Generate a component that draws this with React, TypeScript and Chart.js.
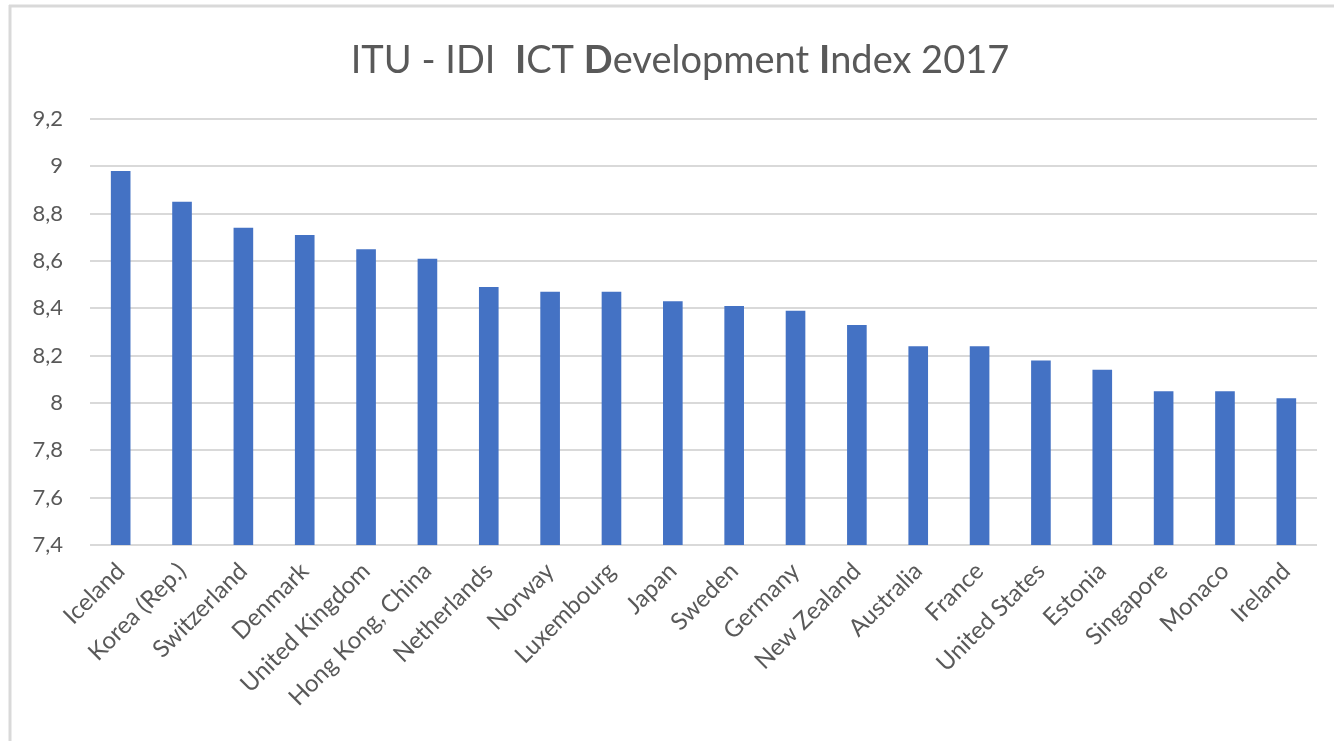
import React, { useEffect, useRef } from "react";
import { Chart, registerables } from "chart.js";

Chart.register(...registerables);

const countries = [
  "Iceland",
  "Korea (Rep.)",
  "Switzerland",
  "Denmark",
  "United Kingdom",
  "Hong Kong, China",
  "Netherlands",
  "Norway",
  "Luxembourg",
  "Japan",
  "Sweden",
  "Germany",
  "New Zealand",
  "Australia",
  "France",
  "United States",
  "Estonia",
  "Singapore",
  "Monaco",
  "Ireland",
];

const idiValues = [
  8.98, 8.85, 8.74, 8.71, 8.65, 8.61, 8.49, 8.47, 8.47, 8.43, 8.41, 8.39, 8.33,
  8.24, 8.24, 8.18, 8.14, 8.05, 8.05, 8.02,
];

const yMin = 7.4;
const yMax = 9.2;
const yStep = 0.2;

const titleRuns = [
  { text: "ITU - IDI  ", bold: false },
  { text: "I", bold: true },
  { text: "CT ", bold: false },
  { text: "D", bold: true },
  { text: "evelopment ", bold: false },
  { text: "I", bold: true },
  { text: "ndex 2017", bold: false },
];

const FONT = "Lato, 'Open Sans', sans-serif";
const TEXT = "#595959";
const GRID = "#d9d9d9";
const BAR = "#4472C4";

const framePlugin = {
  id: "frameAndTitle",
  beforeDraw(chart: any) {
    const ctx = chart.ctx;
    ctx.save();
    ctx.fillStyle = "#ffffff";
    ctx.fillRect(0, 0, chart.width, chart.height);
    ctx.strokeStyle = GRID;
    ctx.lineWidth = 3;
    ctx.beginPath();
    ctx.moveTo(9, 6);
    ctx.lineTo(chart.width, 6);
    ctx.moveTo(10, 5);
    ctx.lineTo(10, chart.height);
    ctx.stroke();
    ctx.restore();
  },
  afterDraw(chart: any) {
    const ctx = chart.ctx;
    ctx.save();
    const size = 38;
    const fontFor = (b: boolean) => `${b ? "bold " : ""}${size}px ${FONT}`;
    let total = 0;
    const widths = titleRuns.map((r) => {
      ctx.font = fontFor(r.bold);
      const w = ctx.measureText(r.text).width;
      total += w;
      return w;
    });
    let x = 680 - total / 2;
    ctx.fillStyle = TEXT;
    ctx.textBaseline = "alphabetic";
    ctx.textAlign = "left";
    titleRuns.forEach((r, i) => {
      ctx.font = fontFor(r.bold);
      ctx.fillText(r.text, x, 73);
      x += widths[i];
    });
    ctx.restore();
  },
};

export default function App() {
  const ref = useRef<HTMLCanvasElement | null>(null);

  useEffect(() => {
    if (!ref.current) return;
    const chart = new Chart(ref.current, {
      type: "bar",
      data: {
        labels: countries,
        datasets: [
          {
            label: "IDI 2017",
            data: idiValues,
            backgroundColor: BAR,
            borderWidth: 0,
            barPercentage: 0.32,
            categoryPercentage: 1,
          },
        ],
      },
      options: {
        responsive: false,
        animation: false,
        layout: { padding: { left: 0, right: 17, top: 119, bottom: 0 } },
        plugins: {
          legend: { display: false },
          title: { display: false },
          tooltip: { enabled: false },
        },
        scales: {
          x: {
            grid: { display: false, drawTicks: false },
            border: { display: false },
            ticks: {
              color: TEXT,
              font: { family: FONT, size: 24 },
              maxRotation: 45,
              minRotation: 45,
              autoSkip: false,
              padding: 12,
            },
            afterFit(scale: any) {
              scale.height = 196;
            },
          },
          y: {
            min: yMin,
            max: yMax,
            grid: { color: GRID, lineWidth: 2, drawTicks: false },
            border: { display: false },
            ticks: {
              stepSize: yStep,
              color: TEXT,
              font: { family: FONT, size: 22 },
              padding: 27,
              callback: (v: any) =>
                String(Math.round(Number(v) * 10) / 10).replace(".", ","),
            },
            afterFit(scale: any) {
              scale.width = 90;
            },
          },
        },
      },
      plugins: [framePlugin],
    });
    return () => chart.destroy();
  }, []);

  return (
    <div style={{ position: "absolute", left: 0, top: 0, width: 1334, height: 741 }}>
      <canvas ref={ref} width={1334} height={741} />
    </div>
  );
}
